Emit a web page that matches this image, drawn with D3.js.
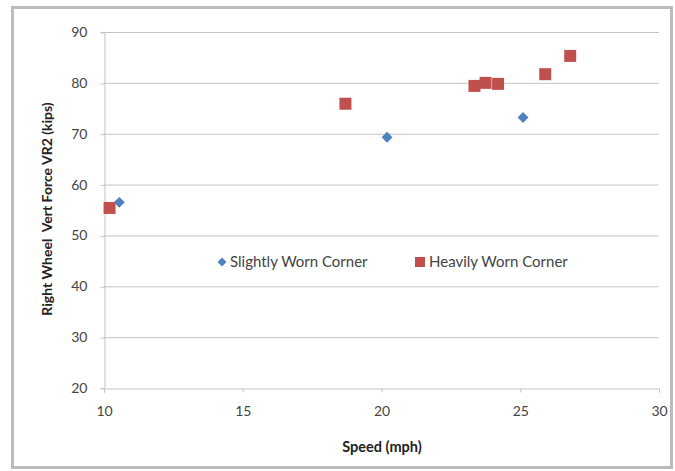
<!DOCTYPE html>
<html><head><meta charset="utf-8">
<script src="https://cdn.jsdelivr.net/npm/d3@7"></script>
<style>
body{margin:0;background:#fff;}
svg{display:block;font-family:Lato,"Open Sans",sans-serif;}
</style></head>
<body><svg id="c" width="675" height="471"></svg>
<script>
const xTicks = [10, 15, 20, 25, 30];
const yTicks = [20, 30, 40, 50, 60, 70, 80, 90];
const slightlySpeed = [10.55, 20.2, 25.1];
const slightlyForce = [56.5, 69.3, 73.2];
const heavilySpeed = [10.2, 18.7, 23.35, 23.75, 24.2, 25.9, 26.8];
const heavilyForce = [55.4, 75.9, 79.4, 80.0, 79.8, 81.7, 85.3];
const seriesNames = ["Slightly Worn Corner", "Heavily Worn Corner"];
const colors = ["#4F81BD", "#C0504D"];

const svg = d3.select("#c");
svg.append("rect").attr("x",12.5).attr("y",7.5).attr("width",659).attr("height",460)
  .attr("fill","#fff").attr("stroke","#bcbcbc").attr("stroke-width",3);

const x = d3.scaleLinear().domain([10,30]).range([104,659]);
const y = d3.scaleLinear().domain([20,90]).range([388,32]);

// gridlines
svg.append("g").selectAll("line").data(yTicks.filter(d=>d>20)).join("line")
  .attr("x1",104).attr("x2",659).attr("y1",d=>y(d)+0.5).attr("y2",d=>y(d)+0.5)
  .attr("stroke","#c4c4c4").attr("stroke-width",1);

const xAxis = svg.append("g").attr("transform","translate(0,388.5)")
  .call(d3.axisBottom(x).tickValues(xTicks).tickSize(4).tickPadding(14).tickFormat(d3.format("d")));
const yAxis = svg.append("g").attr("transform","translate(104.5,0)")
  .call(d3.axisLeft(y).tickValues(yTicks).tickSize(4).tickPadding(13).tickFormat(d3.format("d")));
[xAxis,yAxis].forEach(a=>{
  a.select(".domain").attr("stroke","#c4c4c4");
  a.selectAll(".tick line").attr("stroke","#c4c4c4");
  a.selectAll(".tick text").attr("fill","#444").attr("font-size",14).attr("font-family","Lato, sans-serif");
});
yAxis.selectAll(".tick line").attr("transform","translate(0,0.5)");

// marks
const sData = slightlySpeed.map((s,i)=>({s, f: slightlyForce[i]}));
const hData = heavilySpeed.map((s,i)=>({s, f: heavilyForce[i]}));
const diamond = d3.symbol().type(d3.symbolSquare).size(60);
svg.append("g").selectAll("path").data(sData).join("path")
  .attr("d", diamond())
  .attr("transform", d=>`translate(${x(d.s)},${y(d.f)}) rotate(45)`)
  .attr("fill", colors[0]);
svg.append("g").selectAll("rect").data(hData).join("rect")
  .attr("x", d=>x(d.s)-6).attr("y", d=>y(d.f)-6).attr("width",12).attr("height",12)
  .attr("fill", colors[1]);

// legend
const lg = svg.append("g");
lg.append("path").attr("d", d3.symbol().type(d3.symbolSquare).size(40)())
  .attr("transform","translate(222,262) rotate(45)").attr("fill",colors[0]);
lg.append("text").attr("x",230).attr("y",267).text(seriesNames[0])
  .attr("font-size",15).attr("fill","#444");
lg.append("rect").attr("x",415).attr("y",257).attr("width",10).attr("height",10).attr("fill",colors[1]);
lg.append("text").attr("x",429).attr("y",267).text(seriesNames[1])
  .attr("font-size",15).attr("fill","#444");

// axis titles
svg.append("text").attr("x",382).attr("y",452).attr("text-anchor","middle")
  .attr("font-weight","bold").attr("font-size",14.5).attr("fill","#222").text("Speed (mph)");
svg.append("text").attr("transform","translate(52,209) rotate(-90)").attr("text-anchor","middle")
  .attr("font-weight","bold").attr("font-size",14).attr("fill","#222")
  .attr("xml:space","preserve").style("white-space","pre").text("Right Wheel  Vert Force VR2 (kips)");
</script></body></html>
